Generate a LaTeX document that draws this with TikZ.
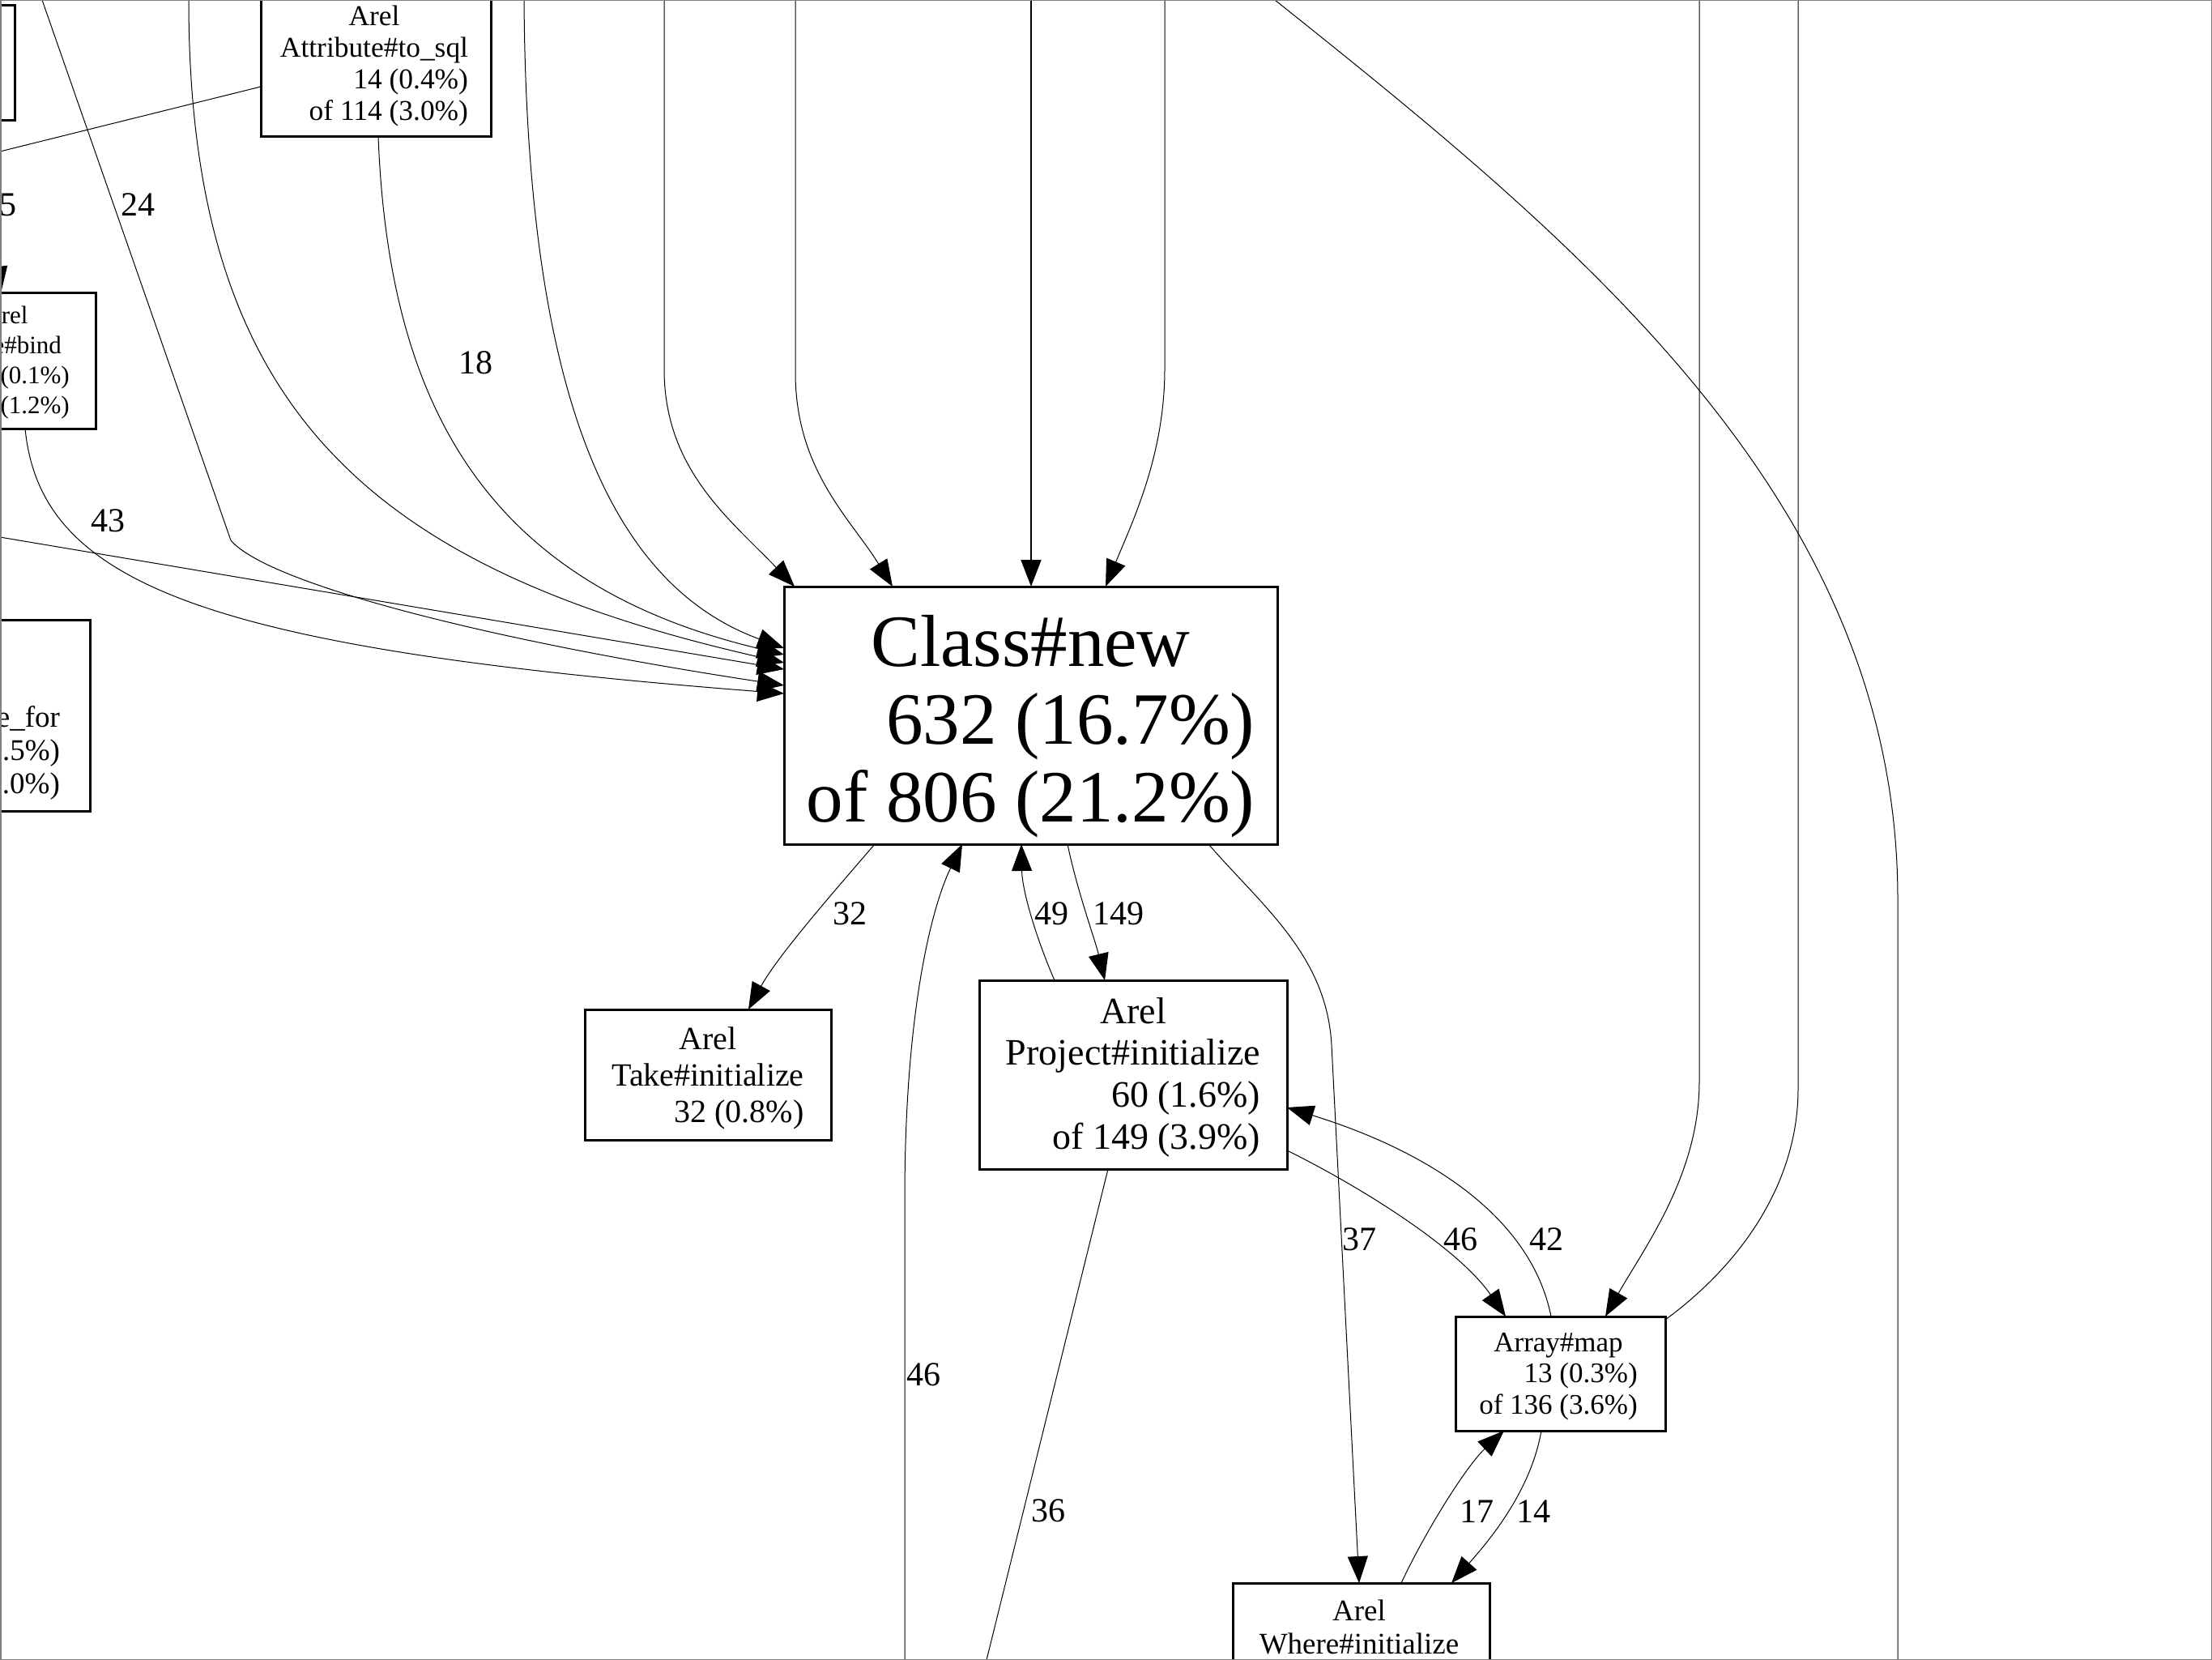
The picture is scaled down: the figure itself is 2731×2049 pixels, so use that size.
\documentclass[tikz,border=0pt]{standalone}
\usepackage{fontspec}
\setmainfont{Liberation Serif}
\usetikzlibrary{arrows.meta}
% one centred line inside a right-aligned label block
\newcommand\mkc[1]{\multicolumn{1}{@{}c@{}}{#1}}
\begin{document}
\begin{tikzpicture}[x=1pt,y=-1pt,
  fn/.style={draw=black, line width=3pt, inner sep=0pt, outer sep=0pt, rectangle},
  txt/.style={inner sep=0pt, anchor=base},
  fs/.style 2 args={font=\fontsize{#1}{#2}\selectfont},
  edge/.style={draw=black, line width=1pt},
  arr/.style={edge, -{Triangle[length=33pt,width=25pt]}},
  elab/.style={inner sep=0pt, font=\fontsize{42}{46}\selectfont},
]
\useasboundingbox (0,0) rectangle (2731,2049);

% ---------- function boxes ----------
\node[fn, minimum width=318pt, minimum height=142pt] (tl) at (-141,78) {};

\node[fn, minimum width=284pt, minimum height=179pt] (ts) at (464,79.5) {};
\node[txt, fs={35.4}{38.7}] (ts-t) at (462,32)
  {\begin{tabular}[t]{@{}r@{}}\mkc{Arel}\\\mkc{Attribute\#to\_sql}\\14 (0.4\%)\\of 114 (3.0\%)\end{tabular}};

\node[fn, minimum width=222pt, minimum height=167pt] (bd) at (7,445.5) {};
\node[txt, fs={31}{36.7}] (bd-t) at (7,400)
  {\begin{tabular}[t]{@{}r@{}}\mkc{Arel}\\\mkc{Node\#bind}\\4 (0.1\%)\\of 47 (1.2\%)\end{tabular}};

\node[fn, minimum width=374pt, minimum height=236pt] (ef) at (-76,883) {};
\node[txt, fs={37}{41}] (ef-t) at (-73,815)
  {\begin{tabular}[t]{@{}r@{}}\mkc{Arel}\\\mkc{Table}\\\mkc{Attribute\#value\_for}\\19 (0.5\%)\\of 38 (1.0\%)\end{tabular}};

\node[fn, minimum width=609pt, minimum height=318pt] (cn) at (1272.5,883) {};
\node[txt, fs={91}{96}] (cn-t) at (1272.5,822)
  {\begin{tabular}[t]{@{}r@{}}\mkc{Class\#new}\\632 (16.7\%)\\of 806 (21.2\%)\end{tabular}};

\node[fn, minimum width=304pt, minimum height=161pt] (tk) at (874,1326.5) {};
\node[txt, fs={40}{45}] (tk-t) at (874,1295)
  {\begin{tabular}[t]{@{}r@{}}\mkc{Arel}\\\mkc{Take\#initialize}\\32 (0.8\%)\end{tabular}};

\node[fn, minimum width=380pt, minimum height=233pt] (pj) at (1399,1326.5) {};
\node[txt, fs={46}{51.7}] (pj-t) at (1399,1263)
  {\begin{tabular}[t]{@{}r@{}}\mkc{Arel}\\\mkc{Project\#initialize}\\60 (1.6\%)\\of 149 (3.9\%)\end{tabular}};

\node[fn, minimum width=259pt, minimum height=141pt] (am) at (1926.5,1695.5) {};
\node[txt, fs={35}{38.3}] (am-t) at (1924,1668.5)
  {\begin{tabular}[t]{@{}r@{}}\mkc{Array\#map}\\13 (0.3\%)\\of 136 (3.6\%)\end{tabular}};

\node[fn, minimum width=317pt, minimum height=196pt] (wh) at (1680.5,2052) {};
\node[txt, fs={37}{41}] (wh-t) at (1678,2000)
  {\begin{tabular}[t]{@{}c@{}}Arel\\Where\#initialize\end{tabular}};

% ---------- loose ends of calls that leave the frame ----------
\coordinate (s24) at (52,0);
\coordinate (s233) at (233,0);
\coordinate (s647) at (647,0);
\coordinate (sL) at (0,663);
\coordinate (s820) at (820,0);
\coordinate (s981) at (982,0);
\coordinate (s1273) at (1273,0);
\coordinate (s1437) at (1438,0);
\coordinate (lgA) at (1574,0);
\coordinate (lgB) at (2343,2049);
\coordinate (s2098) at (2098,0);
\coordinate (t2220) at (2220,0);
\coordinate (s46) at (1117,2049);
\coordinate (t36) at (1218,2049);
\coordinate (tW) at (-20,192);
\coordinate (s5) at (-20,200);

% ---------- calls into Class#new from the left ----------
\draw[arr] (s24) -- (285,667) .. controls (330,720) and (600,790) .. ([yshift=-122pt]cn.north west);
\draw[arr] (s233) .. controls (233,500) and (450,700) .. ([yshift=-94pt]cn.north west);
\draw[arr] ([xshift=3pt]ts.south) .. controls (480,500) and (600,720) .. ([yshift=-84pt]cn.north west);
\draw[arr] (s647) .. controls (650,480) and (750,720) .. ([yshift=-76pt]cn.north west);
\draw[arr] (sL) -- ([yshift=-102pt]cn.north west);
\draw[arr] ([xshift=24pt]bd.south) .. controls (50,720) and (250,800) .. ([yshift=-132pt]cn.north west);

% ---------- calls into Class#new from above ----------
\draw[arr] (s820) -- (820,460) .. controls (822,580) and (900,640) .. ([xshift=13pt]cn.north west);
\draw[arr] (s981) -- (982,460) .. controls (982,580) and (1050,640) .. ([xshift=134pt]cn.north west);
\draw[arr, line width=1.8pt] (s1273) -- ([xshift=0.5pt]cn.north);
\draw[arr] (s1437) -- (1438,455) .. controls (1438,560) and (1400,640) .. ([xshift=397pt]cn.north west);

% ---------- long pass-through call on the right ----------
\draw[edge] (lgA) .. controls (1950,300) and (2343,620) .. (2343,1110) -- (lgB);

% ---------- left-hand small boxes ----------
\draw[edge] ([yshift=-27.5pt]ts.west) -- (tW);
\draw[arr] (s5) -- ([xshift=-6pt]bd.north);

% ---------- calls out of Class#new ----------
\draw[arr] ([xshift=112pt]cn.south west) .. controls (1030,1100) and (960,1180) .. ([xshift=202pt]tk.north west);
\draw[arr] ([xshift=350pt]cn.south west) .. controls (1330,1100) and (1352,1160) .. ([xshift=155pt]pj.north west);
\draw[arr] ([xshift=93pt]pj.north west) .. controls (1280,1160) and (1262,1100) .. ([xshift=293pt]cn.south west);
\draw[arr] (s46) -- (1117,1480) .. controls (1117,1250) and (1150,1120) .. ([xshift=220pt]cn.south west);
\draw[edge] ([xshift=-31pt]pj.south) -- (t36);
\draw[arr] ([xshift=524pt]cn.south west) .. controls (1560,1120) and (1638,1180) .. (1644,1290) -- ([xshift=156pt]wh.north west);

% ---------- Project / Array / Where ----------
\draw[arr] ([yshift=-210pt]pj.north east) .. controls (1680,1465) and (1800,1540) .. ([xshift=62pt]am.north west);
\draw[arr] ([xshift=118pt]am.north west) .. controls (1890,1500) and (1760,1420) .. ([yshift=-157pt]pj.north east);
\draw[arr] ([xshift=208pt]wh.north west) .. controls (1760,1890) and (1810,1810) .. ([xshift=60pt]am.south west);
\draw[arr] ([xshift=106pt]am.south west) .. controls (1890,1840) and (1840,1900) .. ([xshift=270pt]wh.north west);
\draw[arr] (s2098) -- (2098,1335) .. controls (2098,1450) and (2030,1540) .. ([xshift=185pt]am.north west);
\draw[edge] ([yshift=-4pt]am.north east) .. controls (2150,1560) and (2220,1460) .. (2220,1344) -- (t2220);

% ---------- edge weights ----------
\node[elab] (l5)   at (10,253)   {5};
\node[elab] (l24)  at (170,253)  {24};
\node[elab] (l18)  at (587,448)  {18};
\node[elab] (l43)  at (133,643)  {43};
\node[elab] (l32)  at (1049,1128) {32};
\node[elab] (l49)  at (1298,1128) {49};
\node[elab] (l149) at (1381,1128) {149};
\node[elab] (l46a) at (1140,1697) {46};
\node[elab] (l36)  at (1294,1865) {36};
\node[elab] (l37)  at (1678,1530) {37};
\node[elab] (l46b) at (1803,1530) {46};
\node[elab] (l42)  at (1909,1530) {42};
\node[elab] (l17)  at (1823,1866) {17};
\node[elab] (l14)  at (1893,1866) {14};

% ---------- frame ----------
\draw[gray, line width=3pt] (0,0) rectangle (2731,2049);
\end{tikzpicture}
\end{document}
